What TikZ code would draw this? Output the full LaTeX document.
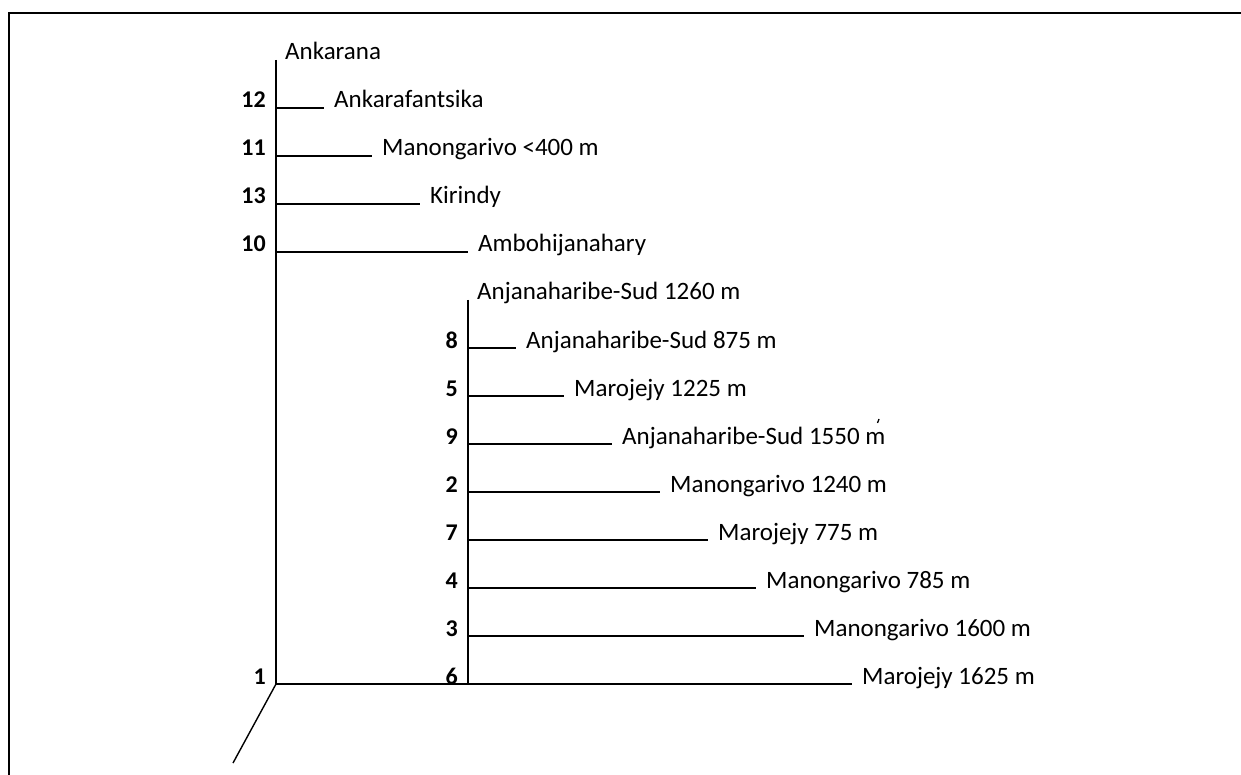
\documentclass[tikz,border=0pt]{standalone}
\usepackage{fontspec}
\setmainfont{Carlito}
\begin{document}
\begin{tikzpicture}[x=1pt,y=-1pt,
  branch/.style={line width=1.4pt},
  frameline/.style={line width=2pt},
  leaf/.style={anchor=base west, inner sep=0pt, font=\fontsize{25}{30}\selectfont},
  num/.style={anchor=base east, inner sep=0pt, font=\fontsize{24}{30}\selectfont\bfseries}]
\useasboundingbox (0,0) rectangle (1241,775);
% frame (top and left only)
\coordinate (fb) at (9,775);
\coordinate (fc) at (9,13);
\coordinate (fr) at (1241,13);
\draw[frameline] (fb) -- (fc) -- (fr);
% main trunk
\coordinate (t1) at (276,60);
\coordinate (b1) at (276,684);
\coordinate (t2) at (468,300);
\coordinate (b2) at (468,684);
\coordinate (b6) at (852,684);
\coordinate (dg) at (233,763);
\draw[branch] (t1) -- (b1);
\draw[branch] (t2) -- (b2);
\draw[branch] (b1) -- (b6);
\draw[branch] (b1) -- (dg);
\node[leaf] (lAnk) at (285,60) {Ankarana};
\node[leaf] (lAnj) at (477,300) {Anjanaharibe-Sud 1260 m};
\node[num] (n1) at (266,684) {1};
\node[num] (n6) at (458,684) {6};
\node[leaf] (l6) at (862,684) {Marojejy 1625 m};
% branches on main trunk
\foreach \n/\yy/\k/\lab in {12/108/1/Ankarafantsika, 11/156/2/{Manongarivo <400 m}, 13/204/3/Kirindy, 10/252/4/Ambohijanahary}{
  \coordinate (a\n) at (276,\yy);
  \coordinate (e\n) at ({276+48*\k},\yy);
  \node[num] (n\n) at (266,\yy) {\n};
  \node[leaf] (l\n) at ({276+48*\k+10},\yy) {\lab};
  \draw[branch] (a\n) -- (e\n);
}
% branches on second trunk
\foreach \n/\yy/\k/\lab in {8/348/1/{Anjanaharibe-Sud 875 m}, 5/396/2/{Marojejy 1225 m}, 9/444/3/{Anjanaharibe-Sud 1550 m}, 2/492/4/{Manongarivo 1240 m}, 7/540/5/{Marojejy 775 m}, 4/588/6/{Manongarivo 785 m}, 3/636/7/{Manongarivo 1600 m}}{
  \coordinate (a\n) at (468,\yy);
  \coordinate (e\n) at ({468+48*\k},\yy);
  \node[num] (n\n) at (458,\yy) {\n};
  \node[leaf] (l\n) at ({468+48*\k+10},\yy) {\lab};
  \draw[branch] (a\n) -- (e\n);
}
% small mark above the last m of label 9
\coordinate (m1) at (877.5,423);
\coordinate (m2) at (879,419);
\draw[line width=1.3pt] (m1) -- (m2);
\end{tikzpicture}
\end{document}
